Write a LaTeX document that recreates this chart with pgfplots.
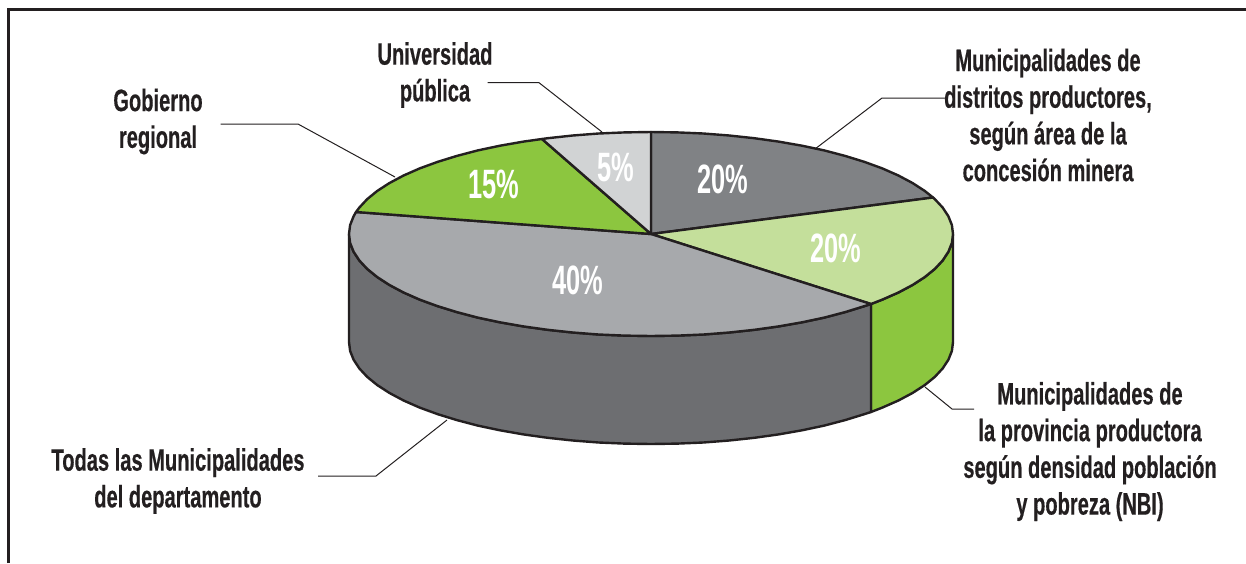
\documentclass[border=0pt]{standalone}
\usepackage{pgfplots}
\pgfplotsset{compat=1.18}
\usepackage{fontspec}
\setmainfont[FakeStretch=0.62]{Liberation Sans}
\newfontfamily\labf[FakeStretch=0.648,BoldFeatures={FakeBold=0.4}]{Liberation Sans}
\definecolor{edge}{HTML}{231F20}
\definecolor{sideDark}{HTML}{6D6E71}
\definecolor{topDark}{HTML}{808285}
\definecolor{topMid}{HTML}{A7A9AC}
\definecolor{topLight}{HTML}{D1D3D4}
\definecolor{green}{HTML}{8CC63F}
\definecolor{lightGreen}{HTML}{C4DF9B}
\begin{document}
\begin{tikzpicture}[lab/.style={align=center,font=\labf\fontsize{31}{36.7}\selectfont\bfseries,text=edge,inner sep=0pt},
 pct/.style={font=\fontsize{41}{41}\selectfont\bfseries,text=white,inner sep=0pt}]
\useasboundingbox (0,0) rectangle (1246pt,563pt);
\begin{axis}[scale only axis,width=1246pt,height=563pt,xmin=0,xmax=1246,ymin=0,ymax=563,y dir=reverse,axis lines=none,clip=true,anchor=south west,at={(0,0)}]
% frame
\addplot[edge,line width=3pt] coordinates {(8,563) (8,9) (1246,9)};
% side faces
\addplot[fill=green,draw=edge,line width=2.4pt,line join=round] coordinates {(953,234) (951.9,242.9) (948.4,251.7) (942.7,260.4) (934.8,268.9) (924.7,277.1) (912.5,285) (898.4,292.5) (882.3,299.6) (871,304) (871,412) (882.3,407.6) (898.4,400.5) (912.5,393) (924.7,385.1) (934.8,376.9) (942.7,368.4) (948.4,359.7) (951.9,350.9) (953,342)} --cycle;
\addplot[fill=sideDark,draw=edge,line width=2.4pt,line join=round] coordinates {(871,304) (864.5,306.1) (845.1,312.1) (824.2,317.6) (802,322.3) (778.6,326.4) (754.3,329.8) (729.2,332.5) (703.4,334.5) (677.3,335.6) (651,336) (624.7,335.6) (598.6,334.5) (572.8,332.5) (547.7,329.8) (523.4,326.4) (500,322.3) (477.8,317.6) (456.9,312.1) (437.5,306.1) (419.7,299.6) (403.6,292.5) (389.5,285) (377.3,277.1) (367.2,268.9) (359.3,260.4) (353.6,251.7) (350.1,242.9) (349,234) (349,342) (350.1,350.9) (353.6,359.7) (359.3,368.4) (367.2,376.9) (377.3,385.1) (389.5,393) (403.6,400.5) (419.7,407.6) (437.5,414.1) (456.9,420.1) (477.8,425.6) (500,430.3) (523.4,434.4) (547.7,437.8) (572.8,440.5) (598.6,442.5) (624.7,443.6) (651,444) (677.3,443.6) (703.4,442.5) (729.2,440.5) (754.3,437.8) (778.6,434.4) (802,430.3) (824.2,425.6) (845.1,420.1) (864.5,414.1) (871,412)} --cycle;
% top slices
\addplot[fill=topDark,draw=edge,line width=2.4pt,line join=round] coordinates {(651,234) (651,132) (677.3,132.4) (703.4,133.5) (729.2,135.5) (754.3,138.2) (778.6,141.6) (802,145.7) (824.2,150.4) (845.1,155.9) (864.5,161.9) (882.3,168.4) (898.4,175.5) (912.5,183) (924.7,190.9) (933,197.5)} --cycle;
\addplot[fill=lightGreen,draw=edge,line width=2.4pt,line join=round] coordinates {(651,234) (933,197.5) (934.8,199.1) (942.7,207.6) (948.4,216.3) (951.9,225.1) (953,234) (951.9,242.9) (948.4,251.7) (942.7,260.4) (934.8,268.9) (924.7,277.1) (912.5,285) (898.4,292.5) (882.3,299.6) (871,304)} --cycle;
\addplot[fill=topMid,draw=edge,line width=2.4pt,line join=round] coordinates {(651,234) (871,304) (864.5,306.1) (845.1,312.1) (824.2,317.6) (802,322.3) (778.6,326.4) (754.3,329.8) (729.2,332.5) (703.4,334.5) (677.3,335.6) (651,336) (624.7,335.6) (598.6,334.5) (572.8,332.5) (547.7,329.8) (523.4,326.4) (500,322.3) (477.8,317.6) (456.9,312.1) (437.5,306.1) (419.7,299.6) (403.6,292.5) (389.5,285) (377.3,277.1) (367.2,268.9) (359.3,260.4) (353.6,251.7) (350.1,242.9) (349,234) (350.1,225.1) (353.6,216.3) (356,212)} --cycle;
\addplot[fill=green,draw=edge,line width=2.4pt,line join=round] coordinates {(651,234) (356,212) (359.3,207.6) (367.2,199.1) (377.3,190.9) (389.5,183) (403.6,175.5) (419.7,168.4) (437.5,161.9) (456.9,155.9) (477.8,150.4) (500,145.7) (523.4,141.6) (542,139)} --cycle;
\addplot[fill=topLight,draw=edge,line width=2.4pt,line join=round] coordinates {(651,234) (542,139) (547.7,138.2) (572.8,135.5) (598.6,133.5) (624.7,132.4) (651,132)} --cycle;
% leaders
\addplot[edge,line width=1pt] coordinates {(220.5,124) (298,124) (395,177)};
\addplot[edge,line width=1pt] coordinates {(487.7,82.7) (539,82.7) (602,132)};
\addplot[edge,line width=1pt] coordinates {(815,149) (882,98) (945,98)};
\addplot[edge,line width=1pt] coordinates {(925,387) (952,409) (974,409)};
\addplot[edge,line width=1pt] coordinates {(447,420) (376,476) (318,476)};
% percent labels
\node[pct] at (axis cs:723,179.5) {20\%};
\node[pct] at (axis cs:616,167) {5\%};
\node[pct] at (axis cs:494,184) {15\%};
\node[pct] at (axis cs:836,248) {20\%};
\node[pct] at (axis cs:578,280) {40\%};
% category labels
\node[lab] at (axis cs:158,121.5) {Gobierno\\regional};
\node[lab] at (axis cs:435,75) {Universidad\\pública};
\node[lab] at (axis cs:1048,115) {Municipalidades de\\distritos productores,\\según área de la\\concesión minera};
\node[lab] at (axis cs:1090,451.5) {Municipalidades de\\la provincia productora\\según densidad población\\y pobreza (NBI)};
\node[lab] at (axis cs:178,481) {Todas las Municipalidades\\del departamento};
\end{axis}
\end{tikzpicture}
\end{document}
